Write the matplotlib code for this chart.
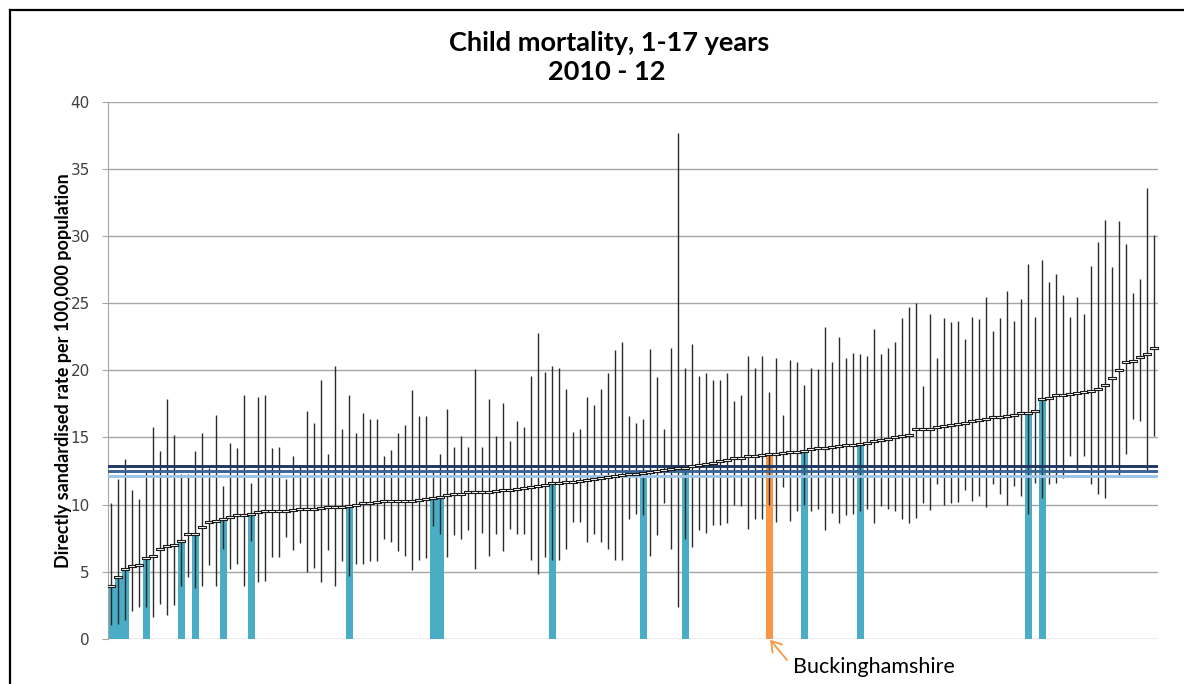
import numpy as np
import matplotlib
matplotlib.use("Agg")
import matplotlib.pyplot as plt
from matplotlib.lines import Line2D

# directly standardised rate per 100,000, sorted, with 95% CI
rates = [3.9, 4.6, 5.2, 5.4, 5.5, 6.0, 6.2, 6.7, 6.9, 7.0,
         7.3, 7.8, 7.8, 8.3, 8.7, 8.8, 8.9, 9.1, 9.2, 9.2,
         9.3, 9.45, 9.55, 9.55, 9.55, 9.55, 9.6, 9.65, 9.7, 9.7,
         9.75, 9.8, 9.85, 9.85, 9.9, 9.95, 10.1, 10.15, 10.2, 10.25,
         10.25, 10.3, 10.3, 10.3, 10.35, 10.4, 10.45, 10.55, 10.7, 10.75,
         10.8, 10.9, 10.95, 10.95, 10.95, 11.0, 11.05, 11.1, 11.15, 11.2,
         11.3, 11.35, 11.45, 11.6, 11.6, 11.65, 11.7, 11.75, 11.85, 11.9,
         12.0, 12.05, 12.15, 12.2, 12.25, 12.3, 12.35, 12.45, 12.5, 12.6,
         12.65, 12.7, 12.75, 12.85, 12.95, 13.0, 13.1, 13.25, 13.35, 13.45,
         13.5, 13.6, 13.65, 13.7, 13.75, 13.8, 13.85, 13.9, 13.95, 14.0,
         14.15, 14.2, 14.25, 14.3, 14.35, 14.4, 14.45, 14.5, 14.6, 14.7,
         14.8, 14.9, 15.0, 15.1, 15.15, 15.6, 15.6, 15.6, 15.8, 15.85,
         15.9, 16.0, 16.1, 16.2, 16.3, 16.4, 16.5, 16.55, 16.6, 16.7,
         16.8, 16.85, 17.0, 17.9, 17.95, 18.2, 18.2, 18.25, 18.3, 18.35,
         18.45, 18.6, 18.9, 19.4, 20.0, 20.6, 20.7, 21.0, 21.2, 21.7]

lower = [1.0, 1.1, 1.4, 2.1, 2.4, 2.4, 1.6, 2.6, 1.8, 2.5,
         3.9, 4.6, 3.8, 3.9, 5.5, 3.9, 6.7, 5.2, 5.6, 3.9,
         7.3, 4.2, 4.3, 6.1, 6.1, 7.6, 6.6, 7.1, 5.0, 5.3,
         4.2, 6.6, 3.9, 5.8, 4.7, 5.6, 5.6, 5.8, 5.8, 7.4,
         7.2, 6.5, 6.2, 5.1, 5.9, 6.0, 8.4, 7.8, 6.1, 7.7,
         7.4, 8.1, 5.2, 7.9, 6.2, 7.8, 6.5, 8.2, 7.8, 7.8,
         5.9, 4.8, 6.1, 5.9, 5.9, 6.7, 8.7, 8.7, 7.2, 7.8,
         7.2, 6.7, 5.9, 5.9, 8.9, 9.3, 9.2, 6.2, 7.7, 10.1,
         6.7, 2.4, 7.4, 6.8, 8.1, 7.9, 8.5, 8.5, 8.6, 10.0,
         9.9, 8.2, 8.9, 8.9, 10.0, 8.7, 11.3, 8.8, 9.5, 10.0,
         9.5, 9.7, 8.1, 9.4, 8.6, 9.2, 9.3, 9.5, 9.7, 8.6,
         9.9, 9.7, 9.5, 8.9, 8.6, 9.0, 10.1, 9.6, 11.5, 10.0,
         10.1, 10.2, 11.1, 10.3, 10.6, 9.8, 11.5, 10.8, 10.0, 11.4,
         10.6, 9.3, 11.6, 10.5, 11.5, 11.6, 12.0, 13.6, 12.5, 13.6,
         11.5, 10.8, 10.5, 12.9, 12.2, 13.8, 16.4, 16.2, 12.6, 15.1]

upper = [10.1, 11.9, 13.4, 11.1, 10.4, 12.4, 15.8, 14.0, 17.9, 15.2,
         12.3, 12.3, 14.0, 15.3, 12.7, 16.7, 11.4, 14.6, 14.2, 18.2,
         11.6, 18.0, 18.2, 14.2, 14.3, 11.9, 13.6, 12.9, 17.0, 16.1,
         19.3, 13.8, 20.3, 15.6, 18.2, 15.3, 16.8, 16.4, 16.4, 13.6,
         14.1, 15.3, 15.9, 18.5, 16.6, 16.6, 12.6, 13.8, 17.1, 14.3,
         15.1, 14.3, 20.1, 14.3, 17.9, 15.1, 17.6, 14.7, 16.2, 15.8,
         19.6, 22.8, 19.9, 20.3, 20.2, 18.6, 15.4, 15.6, 18.0, 17.4,
         18.6, 19.8, 21.5, 22.1, 16.6, 16.1, 16.4, 21.6, 19.5, 15.6,
         21.7, 37.7, 20.2, 22.0, 19.6, 19.8, 19.3, 19.3, 19.8, 17.7,
         18.2, 21.1, 20.2, 21.1, 18.4, 20.9, 16.7, 20.8, 20.6, 18.9,
         20.2, 20.1, 23.2, 20.6, 22.5, 20.9, 21.3, 21.2, 21.1, 23.1,
         21.2, 21.7, 22.1, 23.9, 24.7, 25.0, 18.8, 24.2, 20.9, 23.9,
         23.6, 23.7, 22.3, 24.0, 23.8, 25.5, 22.9, 23.9, 25.9, 23.7,
         25.3, 27.9, 24.0, 28.2, 26.6, 27.2, 25.6, 24.0, 25.5, 24.2,
         27.8, 29.6, 31.2, 27.7, 31.1, 29.4, 25.8, 26.8, 33.6, 30.1]

comparators = [0, 1, 2, 5, 10, 12, 16, 20, 34, 46, 47, 63, 76, 82, 99, 107, 131, 133]
bucks = 94
benchmarks = [12.87, 12.5, 12.12]
benchmark_colors = ['#203864', '#3A6596', '#9DC3E6']

x = np.arange(len(rates))

fig = plt.figure(figsize=(11.84, 6.84), dpi=100)
ax = fig.add_axes([0.091, 0.0662, 0.8868, 0.7847])

ax.bar([x[i] for i in comparators], [rates[i] for i in comparators],
       width=0.97, color='#4BACC6', zorder=2)
ax.bar(x[bucks], rates[bucks], width=0.97, color='#F79646', zorder=2)

ax.vlines(x, lower, upper, color='#2a2a2a', lw=1.0, zorder=3)

for val, col in zip(benchmarks, benchmark_colors):
    ax.axhline(val, color=col, lw=2.1, zorder=4)

box = [(-1, -0.38), (1, -0.38), (1, 0.38), (-1, 0.38), (-1, -0.38)]
ax.plot(x, rates, linestyle='none', marker=box, markersize=5.3,
        markerfacecolor='white', markeredgecolor='#1a1a1a',
        markeredgewidth=0.8, zorder=5)

ax.set_xlim(-0.5, len(rates) - 0.5)
ax.set_ylim(0, 40)
ax.set_yticks(range(0, 41, 5))
ax.set_xticks([])
ax.yaxis.grid(True, color='#a6a6a6', lw=1.0)
ax.set_axisbelow(True)
for s in ['top', 'right', 'bottom']:
    ax.spines[s].set_visible(False)
ax.spines['left'].set_color('#a6a6a6')
ax.tick_params(axis='y', length=4, color='#a6a6a6', labelsize=11,
               labelcolor='#404040', pad=9)

fig.text(64 / 1184, 1 - 371 / 684,
         'Directly sandardised rate per 100,000 population',
         rotation=90, ha='center', va='center',
         fontsize=13, fontweight='bold', family='Lato')

fig.text(609 / 1184, 1 - 43 / 684, 'Child mortality, 1-17 years', ha='center', va='center',
         fontsize=19.5, fontweight='bold', family='Lato')
fig.text(607 / 1184, 1 - 72 / 684, '2010 - 12', ha='center', va='center',
         fontsize=19.5, fontweight='bold', family='Lato')

ax.annotate('', xy=(x[bucks], 0), xytext=(787, 684 - 660),
            textcoords='figure pixels', annotation_clip=False,
            arrowprops=dict(arrowstyle='->,head_length=0.7,head_width=0.45',
                            color='#F79646', lw=1.3, shrinkA=0, shrinkB=1))
fig.text(793 / 1184, 1 - 667 / 684, 'Buckinghamshire', ha='left', va='center',
         fontsize=15.5, family='Lato')

# chart frame, only top and left edges fall inside the picture
fig.add_artist(Line2D([10 / 1184, 1], [1 - 10 / 684, 1 - 10 / 684],
                      transform=fig.transFigure, color='black', lw=1.6))
fig.add_artist(Line2D([10 / 1184, 10 / 1184], [0, 1 - 10 / 684],
                      transform=fig.transFigure, color='black', lw=1.6))

fig.savefig('out.png', dpi=100)
